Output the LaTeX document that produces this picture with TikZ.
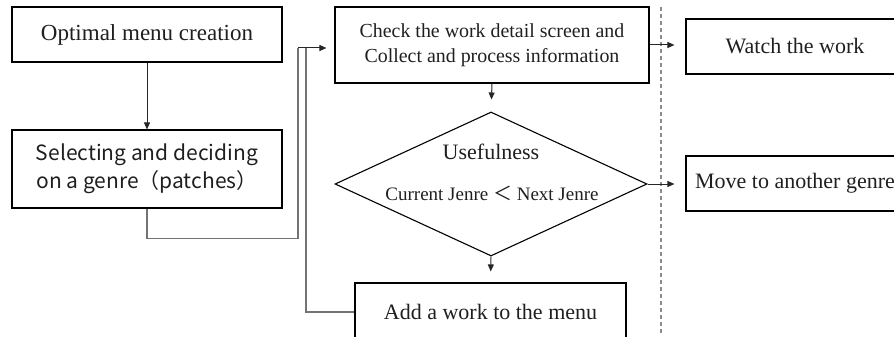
\documentclass[tikz,border=0pt]{standalone}
\usepackage{fontspec}
\setmainfont{Liberation Serif}
\newfontfamily\gothic{Noto Sans CJK JP}
\usetikzlibrary{shapes.geometric,arrows.meta}

\begin{document}
\begin{tikzpicture}[x=1pt,y=-1pt,
  box/.style={draw=black,line width=1.1pt,rectangle,inner sep=0pt,align=center,
    text=black!88,font=\fontsize{22}{26}\selectfont},
  flow/.style={draw=black!85,line width=1pt,-{Triangle[length=7pt,width=6pt]}},
  route/.style={draw=black!55,line width=1.6pt},
  divider/.style={draw=black!45,line width=1.3pt,dash pattern=on 4pt off 3pt},
  txt/.style={inner sep=0pt,text=black!88}]

\useasboundingbox (0,0) rectangle (894,337);
\clip (0,0) rectangle (894,337);

% left column
\node[box,minimum width=270pt,minimum height=55pt,
      font=\fontsize{23}{26}\selectfont] (opt) at (147,34.5) {Optimal menu creation};
\node[box,minimum width=270pt,minimum height=78pt,
      font=\gothic\fontsize{21}{28}\selectfont] (sel) at (147,169)
      {Selecting and deciding\\on a genre（patches）};

% middle column
\node[box,minimum width=314pt,minimum height=76pt,
      font=\fontsize{19.9}{25}\selectfont] (chk) at (492,45)
      {Check the work detail screen and\\Collect and process information};
\node[diamond,draw=black,line width=1.1pt,minimum width=312pt,minimum height=144pt,
      inner sep=0pt] (dia) at (491,184) {};
\node[txt,font=\fontsize{22}{26}\selectfont] (use) at (491,152) {Usefulness};
\node[txt,font=\fontsize{19}{22}\selectfont] (cmp) at (492,193)
      {Current Jenre {\gothic ＜} Next Jenre};
\node[box,minimum width=271pt,minimum height=58pt] (add) at (490.5,312) {Add a work to the menu};

% right column
\node[box,minimum width=218pt,minimum height=55pt] (watch) at (795,46.5) {Watch the work};
\node[box,minimum width=218pt,minimum height=55pt] (move) at (795,183.5) {Move to another genre};

% divider
\draw[divider] (661,7) -- (661,333);

% connectors
\coordinate (joinA) at (298,48);
\coordinate (joinB) at (306,48);
\draw[flow] (opt.south) -- (sel.north);
\draw[route] (sel.south) -- ++(0,30) -| (joinA);
\draw[route] (add.west) -| (joinB);
\draw[flow,shorten >=8pt] (joinA) -- (chk.west |- joinA);
\draw[flow,shorten >=12pt] (chk.south) -- (dia.north);
\draw[flow,shorten >=11pt] (dia.south) -- (add.north);
\draw[flow,shorten >=11pt] (chk.east) -- (watch.west |- chk.east);
\draw[flow,shorten >=11pt] (dia.east) -- (move.west |- dia.east);
\end{tikzpicture}
\end{document}
